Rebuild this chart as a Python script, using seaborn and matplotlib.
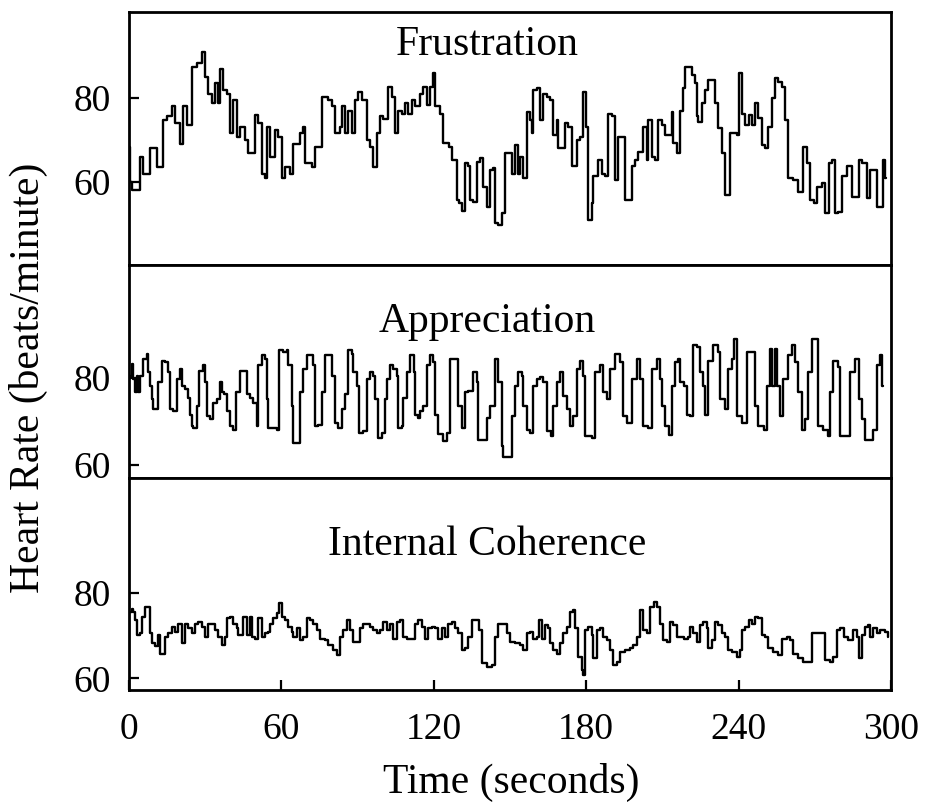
import numpy as np
import seaborn as sns
import matplotlib
matplotlib.use("Agg")
import matplotlib.pyplot as plt

# heart rate traces (seconds, beats/minute)
frus_t = [0, 0.5, 1, 4.3, 5.6, 8.3, 10.9, 13.5, 14.8, 16.8, 18.1, 20.1, 21.4, 22.7, 24.7, 26.6, 28.6, 29.9,
          31.2, 32.6, 33.9, 35.2, 35.8, 36.9, 38.4, 39.8, 41.1, 42.4, 43.7, 45.7, 47, 49.6, 50.9, 52.2, 53.5,
          54.2, 55.5, 57.5, 58.8, 60.1, 61.4, 63.4, 64.7, 67.3, 68.6, 69.3, 71.9, 73.2, 75.8, 78.4, 79.8, 81.1,
          83.1, 83.7, 85, 86.4, 87.7, 89, 90.3, 91.6, 93.6, 94.9, 96.2, 97.5, 98.8, 100.1, 102.1, 103.4, 104.7,
          106, 107.3, 108.6, 110, 111.3, 112.6, 114.6, 115.9, 117.2, 118.6, 119.8, 120.5, 122.5, 123.8, 125.8,
          127.1, 129.1, 129.9, 131, 132.3, 133.5, 134.2, 135.5, 136.9, 138.2, 139.5, 140.8, 142.1, 143.4, 144.1,
          145.4, 146.7, 148, 150.6, 152, 153.3, 153.9, 155.2, 156.5, 157.9, 158.5, 159.2, 160.5, 161.8, 163.1,
          164.4, 165.7, 167, 168.4, 169, 171.6, 173, 174.3, 176.2, 177.5, 178.9, 179.8, 180.8, 182.1, 182.8,
          184.8, 186.1, 187.4, 188.7, 190, 191.3, 192.6, 195.3, 197.9, 199.2, 200.5, 202.5, 203.8, 204.5, 205.8,
          207.1, 208.4, 209.7, 211, 213.7, 214.3, 215.6, 217, 218, 218.9, 221.5, 222.9, 223.5, 224.2, 225.5,
          226.8, 228.1, 230.7, 232, 233.4, 234.7, 236.6, 239.3, 240.2, 241.2, 242.5, 243.9, 245.2, 246.5, 247.8,
          249.1, 250.4, 251.7, 253, 254.4, 255.7, 257, 258.3, 259.6, 261.6, 263.5, 265.5, 266.8, 268.1, 269.5,
          270.8, 272.7, 274, 275.4, 276.7, 278, 279.3, 280.6, 282.6, 284.5, 287.2, 288.5, 290.4, 291.7, 294.4,
          297, 297.7, 298.2]
frus_hr = [68.4, 60, 58, 66, 62, 68, 63.6, 74.8, 75.6, 78, 74, 69, 78, 73.6, 87.5, 88.3, 91, 85,
           81, 78.7, 83.5, 78.7, 87, 82, 81, 71.6, 79.5, 70.8, 73, 70, 66.8, 76, 74, 62, 61,
           73, 66, 72.4, 70.8, 61, 63.6, 62, 69, 71.6, 73, 64.4, 63.6, 68.4, 80.3, 79.5, 78, 71.6,
           73, 78, 71.6, 77, 71.6, 79.5, 81.5, 79.5, 70, 68.4, 63.6, 71.6, 75.6, 74.9, 82.7, 80.3, 71.6,
           77, 76.3, 78.7, 76.3, 79.5, 78, 81, 82.7, 78.3, 82.7, 85.9, 78, 76.3, 69.2, 68.4,
           65.2, 55.7, 55, 53, 64.4, 63.7, 55.7, 55.3, 64.8, 65.6, 58.9, 54.1, 62.9, 63.3, 50.2,
           49.8, 52.5, 66.8, 62, 68.8, 62, 66, 60.9, 76.7, 74.8, 71.6, 81.9, 82.3, 74.8, 81,
           80.3, 79.5, 71.2, 74.8, 68, 74, 73.2, 63.7, 70, 70.8, 81.5, 73.2, 51, 55, 61.3,
           65.2, 62, 61.3, 76.3, 75.6, 60.5, 70.8, 55.7, 63.7, 65.2, 67.2, 73.2, 65.2, 74.8, 66,
           65.2, 74.8, 73.6, 71.2, 76.7, 69.2, 66.8, 77, 82.3, 87.5, 85.5, 83.5, 75.6, 74.4, 78.7,
           81.9, 84.3, 78.7, 72.8, 66.8, 56.9, 71.6, 71.2, 85.9, 76.3, 73.6, 76, 73.6, 78.7, 75.2,
           68.8, 68, 73.2, 79.9, 84.7, 83.9, 82.7, 74.8, 60.9, 60.5, 57.7, 68.4, 64.4, 55.7, 54.9,
           58.9, 59.7, 52.5, 64.4, 65.2, 52.5, 52.9, 61.3, 63.7, 56.5, 65.2, 64.4, 56.1, 62.9, 54.1,
           65.2, 60.9, 60.9]

appr_t = [0, 1, 1.7, 2.4, 3, 3.7, 4.3, 5.6, 7, 7.6, 8.3, 9, 9.6, 11.5, 12.9, 14.2, 15.5, 16.2, 17.5, 18.8,
          20.1, 20.7, 22, 23.4, 24, 24.7, 25.3, 26.6, 27.7, 29, 29.9, 30.6, 31.9, 33.2, 34.5, 35.8, 36.5,
          37.2, 38.5, 39.8, 41.1, 42.1, 43.7, 45.7, 46.3, 47.6, 49, 50.3, 50.9, 52.2, 53.5, 54.2, 54.9, 56.8,
          58.1, 59.2, 60.8, 62.1, 62.7, 64, 64.7, 66, 67.3, 68.6, 70, 71.3, 72.6, 73.2, 74.5, 75.9, 77.2,
          79.2, 79.8, 81.1, 82.4, 83.7, 85, 86.4, 87.6, 88.3, 89.6, 90.7, 92, 93.6, 94.9, 96.2, 96.9, 98.2,
          99.5, 100.8, 101.4, 102.7, 104, 105.4, 106, 107.3, 108, 109.3, 110.6, 112, 112.6, 113.9, 114.5,
          115.9, 117.2, 118.5, 119.8, 120.5, 121.8, 123.7, 125, 126.4, 128.3, 129.6, 131, 132.3, 133.6, 135.5,
          136.9, 137.5, 139.5, 140.8, 142.1, 144.1, 145.4, 146.7, 147.4, 149.3, 150.6, 152, 153.3, 154.6,
          155.2, 156.5, 157.9, 159.2, 160.5, 161.8, 163.1, 164.4, 166, 167, 168.4, 169.7, 171, 172.3, 173.6,
          174.9, 176.2, 177.5, 178.9, 179.5, 182.1, 183.4, 185.4, 186.7, 188, 189.4, 191.3, 193.3, 194.6,
          195.9, 197.9, 199.9, 201.2, 202.5, 204.5, 205.8, 207.8, 209.1, 209.7, 211, 212.4, 213.7, 215, 216.3,
          216.9, 218.3, 219.6, 220.9, 222.2, 223.5, 224.8, 226.1, 226.8, 228.1, 230.1, 232, 232.7, 234.7, 236,
          237.3, 238.2, 239.3, 241.2, 243.2, 245.2, 246.5, 247.8, 249.8, 251.1, 252.4, 253.1, 254.4, 255,
          256.3, 257.6, 259.6, 260.9, 262.2, 263.5, 264.9, 266.2, 267.5, 268.8, 270.8, 271.4, 273.4, 275.3,
          276, 277.3, 279.3, 280, 283.2, 283.9, 285.9, 287.2, 288.5, 289.8, 291.8, 293.1, 294.4, 295.7,
          296.3, 297]
appr_hr = [80.5, 83.3, 79.8, 76.7, 80.5, 76.7, 80.5, 84.4, 85.6, 81.3, 78.2, 75.1, 72.8, 79, 84, 83.6, 81.3, 72.8, 72.4, 79.8,
           82, 78.2, 77.4, 75.5, 71.6, 68.9, 68.5, 73.6, 81.7, 82.9, 79, 71.2, 70.5, 74.3, 75.1, 79, 76.7,
           76.3, 72.4, 68.9, 68.1, 76.7, 81.7, 81.7, 76.3, 75.5, 74.3, 68.9, 82.9, 85.2, 84.4, 75.1, 68.5, 68.5,
           68.1, 86.4, 86, 86.4, 82.9, 73.6, 65, 65, 76.7, 82, 85.2, 85.2, 82.9, 68.9, 69.3, 76.7, 85.2,
           85.2, 80.5, 69.7, 68.5, 72.8, 76.3, 86.4, 85.6, 81.3, 78.2, 67.4, 67.8, 79.8, 81.3, 80.5, 75.1, 66.2,
           67.4, 75.1, 79.8, 82.9, 82.1, 80.5, 68.5, 68.9, 75.5, 81.3, 85.2, 81.3, 71.6, 70.8, 72.4,
           73.6, 82.9, 85.2, 83.6, 71.6, 67.1, 65.4, 67.4, 84.4, 84.4, 73.6, 68.5, 76.7, 77.1, 81.3,
           79, 65.8, 65.8, 70.8, 73.6, 84.4, 79, 64.3, 61.9, 61.9, 71.2, 78.2, 81.3, 80.5,
           73.6, 68.1, 67.4, 78.2, 79.8, 80.2, 79, 67.8, 66.6, 73.6, 79, 81.3, 75.9, 72.8, 68.9,
           71.2, 82.1, 84, 80.5, 66.6, 66.2, 81.3, 82.9, 76.7, 75.1, 82.1, 85.6, 83.6, 71.2,
           69.7, 79.8, 84.4, 79.8, 68.9, 68.5, 82.1, 84.4, 79.8, 73.6, 68.9, 67, 78.2, 83.6, 84.4,
           79, 78.2, 71.6, 71.2, 87.5, 87.1, 81.3, 78.2, 71.6, 84, 87.5, 86, 75.1, 72.8, 82.1,
           84.4, 89, 71.2, 69.7, 86, 86, 73.6, 68.9, 68.1, 78.2, 86.7, 78.2, 86.7, 78.2,
           71.2, 79.8, 85.2, 87.5, 83.6, 76.7, 68.1, 70.5, 81.3, 89, 89, 68.9, 68.1, 66.6,
           76.7, 84, 82.5, 66.6, 66.6, 81.3, 84.4, 75.1, 70.5, 65.8, 65.8, 68.1, 82.9, 85.2,
           78.2, 78.2]

coh_t = [0, 1, 1.7, 2.4, 3, 4.3, 5, 6.3, 7, 8.3, 9, 10.2, 11.5, 12.2, 13.5, 14.2, 15.5, 16.8, 18.1, 19.4,
         20.7, 22, 23.4, 24.7, 26, 27.3, 28.6, 29.9, 31.2, 32.6, 33.9, 35.2, 36.5, 37.8, 38.5, 39.8, 41.1,
         42.4, 43, 44.4, 45, 46.3, 47.6, 48.3, 49.6, 50.9, 52.2, 53.5, 54.9, 55.5, 56.8, 58.1, 59.2, 60.1,
         61.4, 62.7, 64, 64.7, 66, 67.3, 68.6, 70, 71.3, 72.6, 73.9, 75.2, 77.2, 78.5, 80.4, 81.8, 83.1,
         84.4, 85.7, 87, 88.3, 89.6, 90.9, 92.2, 93.6, 94.9, 96.2, 97.5, 98.8, 100.1, 101.4, 102.7, 104,
         105.4, 106.7, 108, 109.3, 111.3, 112.6, 113.9, 115.2, 116.5, 117.8, 119.1, 120.5, 121.8, 123.1,
         124.4, 125.7, 127, 128.3, 129.6, 131, 132.3, 133.6, 134.9, 136.9, 137.9, 138.8, 140.8, 142.8,
         144.1, 145.4, 147.4, 148.7, 150, 152, 153.9, 155.2, 156.5, 157.9, 159.2, 160.5, 161.5, 162.5,
         163.8, 165.1, 165.7, 167.1, 168.4, 169.7, 171, 172.3, 173.6, 174.7, 175.6, 176.9, 178.2, 178.9,
         179.5, 180.8, 182.1, 182.8, 184.1, 185.4, 186.7, 188, 189.4, 190.7, 192, 193.3, 195.3, 197.2,
         198.5, 199.9, 201.2, 202.5, 203.8, 205.1, 206.5, 207.8, 209.1, 210.4, 211.7, 213, 214.3, 215.6,
         218.3, 220.2, 220.9, 222.2, 223.5, 224.8, 226.1, 227.4, 228.1, 229.4, 230.7, 232, 233.4, 234.7,
         236, 237.3, 239.3, 240.6, 241.2, 242.5, 243.9, 245.2, 246.5, 247.8, 249.1, 250.4, 251.7, 253.7,
         255.7, 257, 258.9, 260.2, 261.6, 263.5, 265.5, 267.5, 268.8, 272.7, 274, 276, 277.3, 278.6,
         279.9, 281.3, 283.2, 285.2, 286.5, 287.2, 288.5, 289.8, 291.1, 291.7, 293.1, 294.4, 295.7, 297.6,
         298.9]
coh_hr = [75.6, 76.3, 75.6, 73.6, 70.1, 70.5, 74.4, 76.7, 76.7, 70.5, 68.2, 67.5, 70.1, 65.8, 65.8, 69.7, 70.5, 72.1, 70.9, 72.8,
          68.2, 72.8, 71.7, 70.5, 72.8, 73.2, 72.1, 69.7, 72.8, 72.8, 71.3, 69.7, 67.8, 69.7, 74, 74.4, 72.8,
          71.7, 70.1, 70.1, 74.4, 70.1, 74.4, 69.7, 69.3, 74, 69.7, 70.5, 70.9, 72.8, 74, 75.2, 77.5, 74.4,
          73.6, 72.1, 70.9, 69.7, 71.7, 69, 69.7, 74, 73.6, 72.8, 71.3, 69.3, 69, 67.8, 66.6, 65.4, 69.7,
          71.3, 73.6, 71.3, 68.6, 68.6, 71.7, 72.8, 72.8, 72.1, 71.3, 70.5, 71.3, 73.2, 71.3, 72.8, 69.3,
          73.2, 73.6, 69.7, 69.3, 69.3, 72.8, 73.6, 72.1, 69.3, 71.7, 72.1, 71.7, 69.3, 71.7,
          69.7, 72.8, 73.2, 71.7, 70.5, 66.6, 67, 69.7, 73.6, 73.6, 71.3, 63.5, 62.7, 63.1,
          69.7, 72.8, 72.8, 70.5, 68.6, 68.2, 67.8, 66.6, 70.5, 70.9, 69.3, 69.7, 73.6, 69.3,
          72.4, 71.7, 68.2, 66.6, 65.8, 68.2, 70.5, 72.1, 75.6, 76, 71.7, 65.1, 62, 60.8,
          71.3, 72.1, 70.1, 64.7, 71.3, 71.7, 69.7, 69, 66.6, 63.1, 63.9, 66.2, 66.6, 67,
          67.8, 69.7, 76, 71.3, 70.5, 76.7, 77.9, 76.7, 72.8, 69, 68.6, 73.2, 72.5, 69.7,
          69.3, 69.7, 72.1, 70.5, 68.6, 72.4, 73.2, 71.7, 67, 69, 73.2, 72.4, 70.5, 69.7,
          66.6, 66.2, 65.1, 66.6, 71.3, 72.1, 73.6, 72.8, 74.4, 74, 70.1, 69.7, 67, 66.2,
          65.4, 69.3, 69.7, 69, 65.8, 64.7, 63.9, 63.9, 70.5, 70.5, 64.3, 63.9, 65.1, 71.3,
          71.7, 69.7, 69, 71.3, 69.7, 64.7, 70.1, 72.1, 72.4, 69.7, 71.7, 70.5, 71.3, 70.9,
          69.7]

panel_titles = ["Frustration", "Appreciation", "Internal Coherence"]
ytick_vals = [60, 80]
xtick_vals = [0, 60, 120, 180, 240, 300]

sns.set_theme(style="white")
plt.rcParams['font.family'] = ['Liberation Serif', 'DejaVu Serif']
plt.rcParams['text.color'] = 'black'
plt.rcParams['xtick.color'] = 'black'
plt.rcParams['ytick.color'] = 'black'

fig = plt.figure(figsize=(9.33, 8.05), dpi=100)
left, width = 0.1383, 0.8167
boxes = [(0.6708, 0.3143), (0.4062, 0.2646), (0.1429, 0.2634)]
ylims = [(40.2, 100.5), (57.0, 106.0), (57.3, 106.8)]
title_y = [90.2, 90.7, 88.8]
series = [(frus_t, frus_hr), (appr_t, appr_hr), (coh_t, coh_hr)]

axes = []
for i, (b, h) in enumerate(boxes):
    ax = fig.add_axes([left, b, width, h])
    t, hr = series[i]
    sns.lineplot(x=t, y=hr, ax=ax, color="black", lw=1.7, drawstyle="steps-post",
                 estimator=None, sort=False)
    ax.set_xlim(0, 300)
    ax.set_ylim(*ylims[i])
    ax.set_yticks(ytick_vals)
    ax.tick_params(axis="y", direction="in", length=7, width=1.6, labelsize=27, pad=13,
                   left=True, colors="black")
    for s in ax.spines.values():
        s.set_linewidth(2.0)
        s.set_color("black")
    ax.text(141, title_y[i], panel_titles[i], ha="center", va="baseline", fontsize=30, color="black")
    ax.set_xlabel("")
    ax.set_ylabel("")
    if i < 2:
        ax.set_xticks([])
    else:
        ax.set_xticks(xtick_vals)
        ax.tick_params(axis="x", direction="in", length=7, width=1.6, labelsize=27, pad=16,
                       bottom=True, colors="black")
    axes.append(ax)

fig.text(28 / 933, 1 - 378 / 805, "Heart Rate (beats/minute)", rotation=90, ha="center", va="center",
         fontsize=30, color="black")
fig.text(0.548, 1 - 793 / 805, "Time (seconds)", ha="center", va="baseline", fontsize=30, color="black")

fig.savefig("out.png", dpi=100)
